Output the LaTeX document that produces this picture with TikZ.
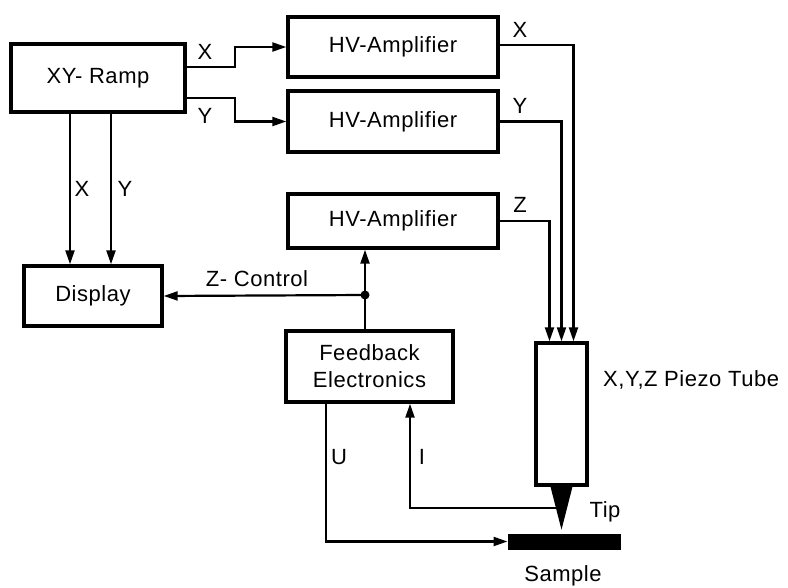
\documentclass[tikz,border=0pt]{standalone}
\usepackage{fontspec}
\setmainfont[LetterSpace=2.5]{Liberation Sans}
\usetikzlibrary{arrows.meta,calc}
\begin{document}
\begin{tikzpicture}[x=1pt,y=-1pt,
  font=\fontsize{22}{27}\selectfont,
  blk/.style={draw,line width=3.4pt,inner sep=0pt,align=center},
  conn/.style={line width=2.2pt,-{Triangle[length=14pt,width=9pt]}},
  lbl/.style={inner sep=0pt}]
\useasboundingbox (0,0) rectangle (788,587);
% blocks
\node[blk,minimum width=174pt,minimum height=68pt] (ramp) at (98,78) {XY- Ramp};
\node[blk,minimum width=210pt,minimum height=60pt] (hv1) at (393,47) {HV-Amplifier};
\node[blk,minimum width=210pt,minimum height=61pt] (hv2) at (393,121.5) {HV-Amplifier};
\node[blk,minimum width=210pt,minimum height=54pt] (hv3) at (393,221) {HV-Amplifier};
\node[blk,minimum width=138pt,minimum height=60pt] (display) at (93,296) {Display};
\node[blk,minimum width=167pt,minimum height=71pt] (fb) at (369.5,366.5) {Feedback\\Electronics};
\node[blk,minimum width=51pt,minimum height=142pt] (tube) at (561.5,414) {};
\node[fill,draw,line width=1pt,minimum width=112pt,minimum height=15pt,inner sep=0pt] (sample) at (564,541.5) {};
% tip
\fill ([xshift=-11pt]tube.south) -- ([xshift=11pt]tube.south) -- ([yshift=-43pt]tube.south) -- cycle;
% helper coordinates
\coordinate (cx) at (70,0);
\coordinate (cy) at (111,0);
\coordinate (jx) at (365,295);
\coordinate (ux) at (326,0);
\coordinate (ix) at (410,0);
\coordinate (tipin) at (556,508);
% XY ramp to HV amplifiers
\draw[conn] ([yshift=11pt]ramp.east) -- ++(48,0) |- (hv1.west);
\draw[conn] ([yshift=-20pt]ramp.east) -- ++(48,0) |- (hv2.west);
% XY ramp to display
\draw[conn] (ramp.south -| cx) -- (display.north -| cx);
\draw[conn] (ramp.south -| cy) -- (display.north -| cy);
% HV amplifiers to tube
\draw[conn] ([yshift=2pt]hv1.east) -| ([xshift=12pt]tube.north);
\draw[conn] (hv2.east) -| (tube.north);
\draw[conn] (hv3.east) -| ([xshift=-12pt]tube.north);
% feedback
\draw[conn] (fb.north -| jx) -- (hv3.south -| jx);
\fill (jx) circle (4.5pt);
\draw[conn] (jx) -- (display.east);
\draw[conn] (fb.south -| ux) |- (sample.west);
\draw[conn] (tipin) -| (fb.south -| ix);
% labels
\node[lbl] (lx1) at (205,52) {X};
\node[lbl] (ly1) at (205,116) {Y};
\node[lbl] (lx2) at (82,189) {X};
\node[lbl] (ly2) at (125,189) {Y};
\node[lbl] (lx3) at (520,30) {X};
\node[lbl] (ly3) at (520,106) {Y};
\node[lbl] (lz3) at (520,205) {Z};
\node[lbl] (lzc) at (257,279) {Z- Control};
\node[lbl] (lu) at (339,457) {U};
\node[lbl] (li) at (422,457) {I};
\node[lbl] (ltip) at (605,512) {Tip};
\node[lbl] (lsample) at (563,576) {Sample};
\node[lbl,anchor=west] (ltube) at (603,380) {X,Y,Z Piezo Tube};
\end{tikzpicture}
\end{document}
